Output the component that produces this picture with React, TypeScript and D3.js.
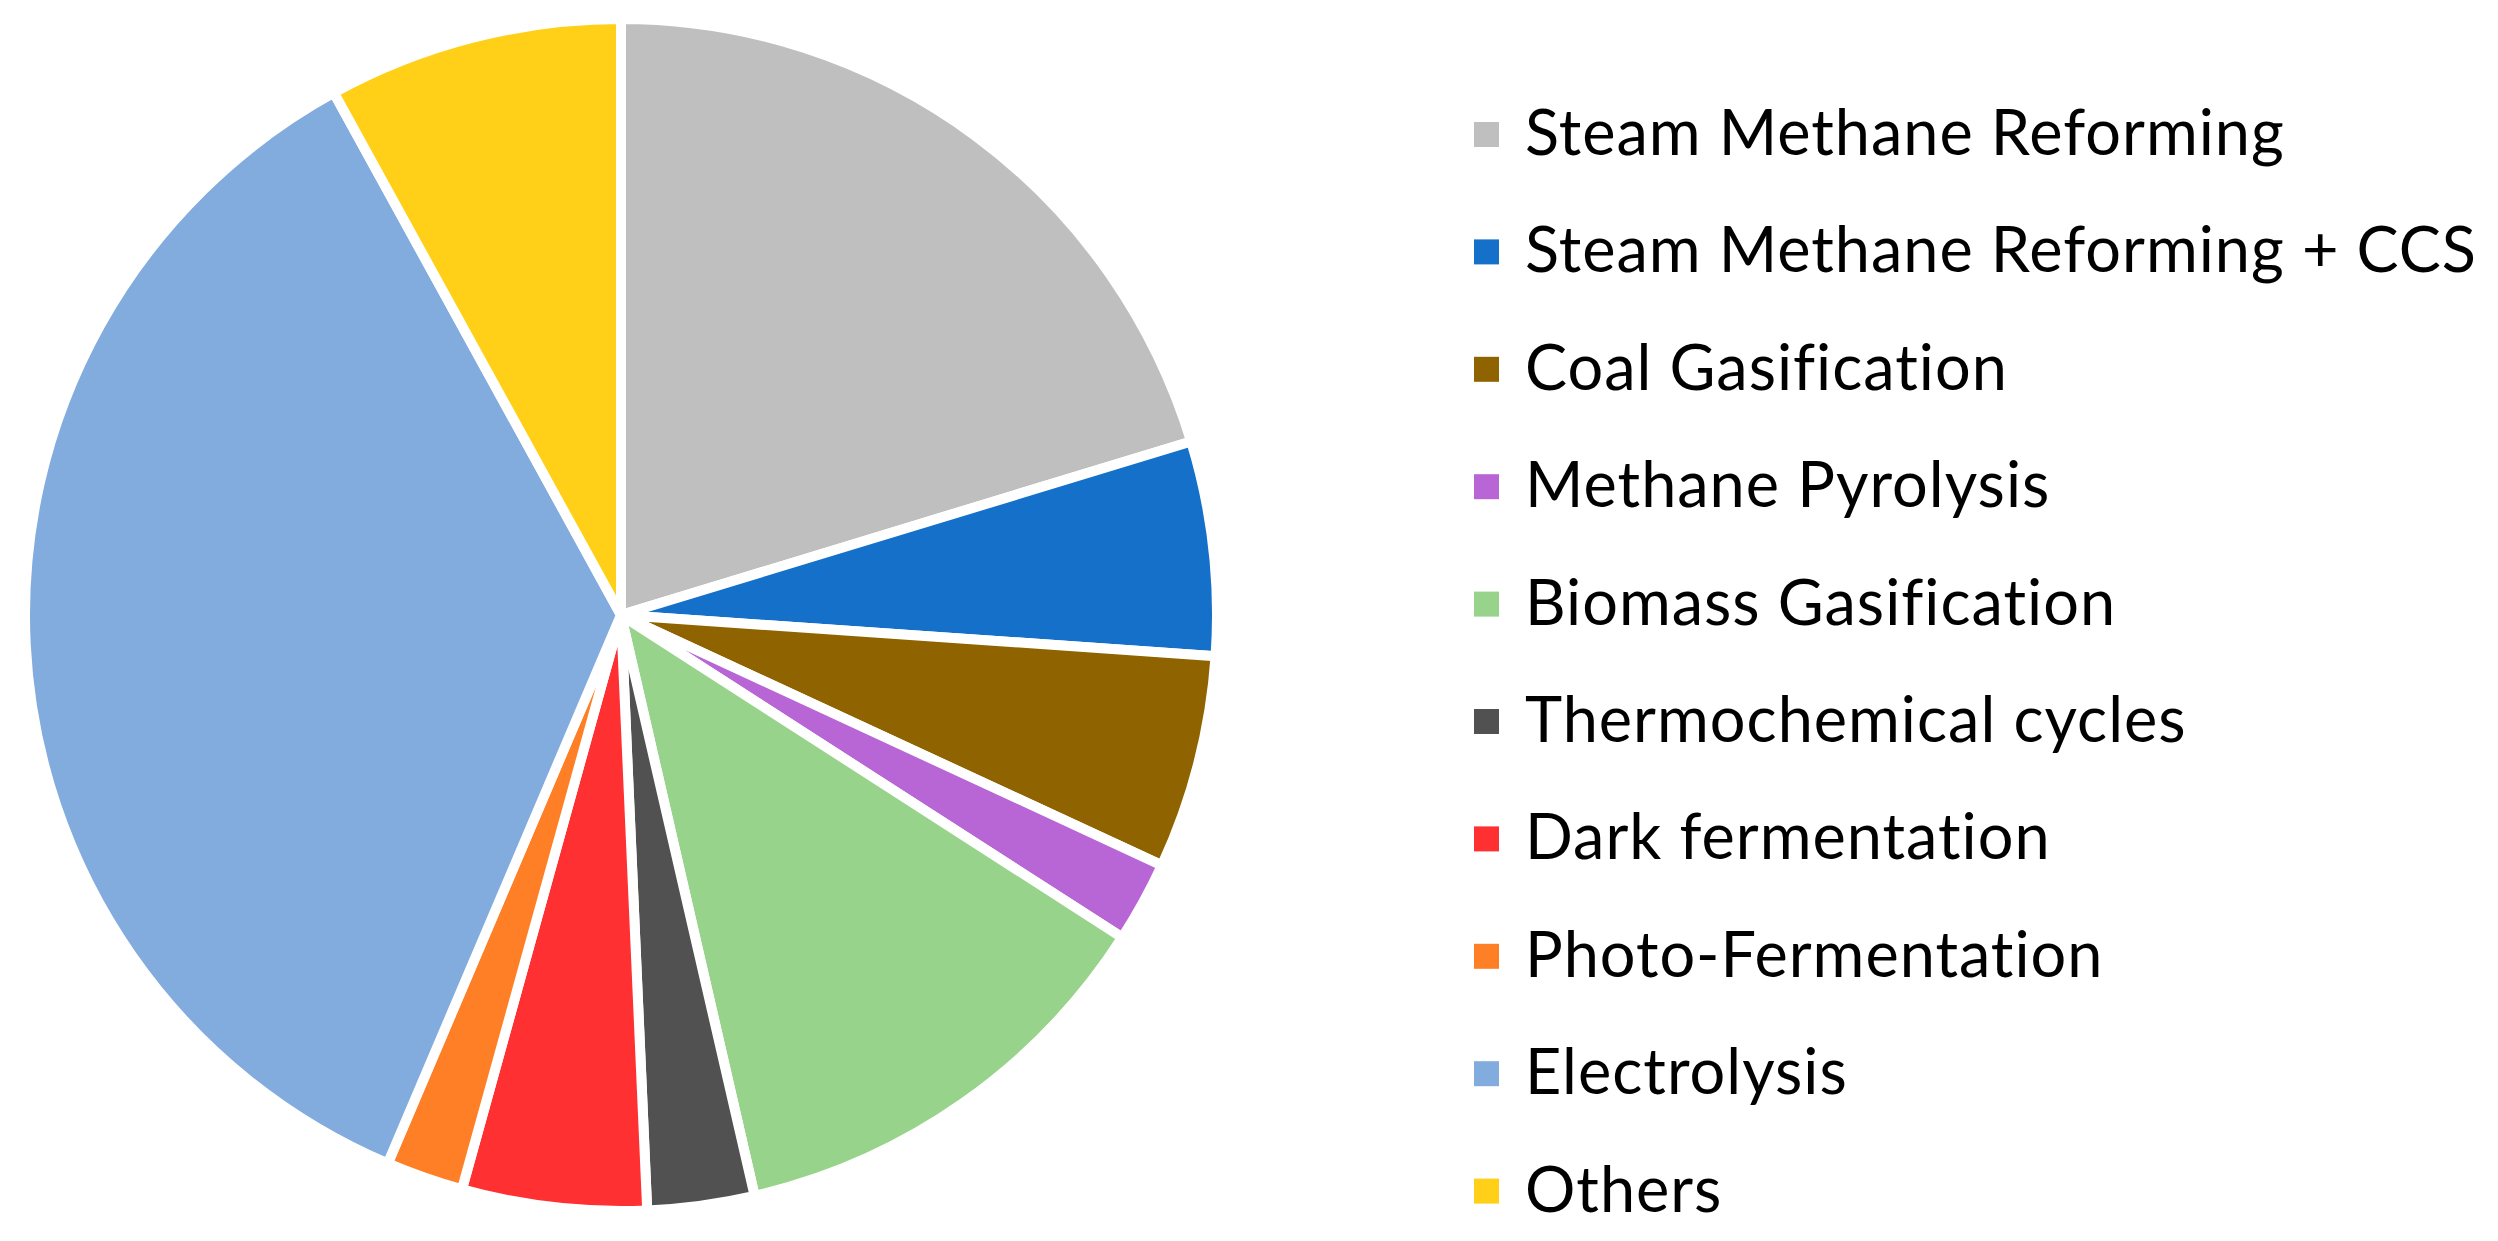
import React from 'react';
import { pie, arc } from 'd3';

const categories = [
  'Steam Methane Reforming',
  'Steam Methane Reforming + CCS',
  'Coal Gasification',
  'Methane Pyrolysis',
  'Biomass Gasification',
  'Thermochemical cycles',
  'Dark fermentation',
  'Photo-Fermentation',
  'Electrolysis',
  'Others',
];

const shares = [20.3, 5.8, 5.8, 2.2, 12.3, 2.9, 5.0, 2.1, 35.6, 8.0];

const colors = [
  '#BFBFBF', '#1470C8', '#8F6400', '#B865D6', '#97D38B',
  '#515151', '#FF3032', '#FF7F27', '#82ABDE', '#FFD017',
];

const W = 2498;
const H = 1241;
const cx = 621;
const cy = 615;
const R = 596;

export default function App() {
  const slices = pie<number>().sort(null).value(d => d)(shares);
  const arcGen = arc<any>().innerRadius(0).outerRadius(R);

  return (
    <svg width={W} height={H} style={{ position: 'absolute', left: 0, top: 0, background: '#fff' }}>
      <g transform={`translate(${cx},${cy})`}>
        {slices.map((s, i) => (
          <path key={i} d={arcGen(s) || ''} fill={colors[i]} stroke="#fff" strokeWidth={10} strokeLinejoin="round" />
        ))}
      </g>
      {/* legend */}
      <g fontFamily="Lato, 'Open Sans', sans-serif" fontSize={63} letterSpacing={1} fill="#000">
        {categories.map((c, i) => {
          const base = 155 + i * 117.4;
          return (
            <g key={c}>
              <rect x={1474} y={base - 33} width={25} height={25} fill={colors[i]} />
              <text x={1525} y={base}>{c}</text>
            </g>
          );
        })}
      </g>
    </svg>
  );
}
